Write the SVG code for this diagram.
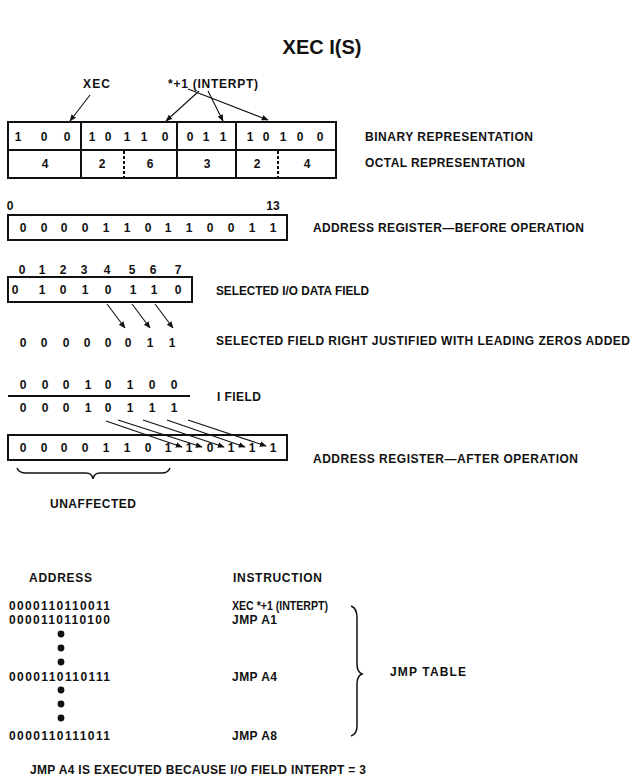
<svg xmlns="http://www.w3.org/2000/svg" width="633" height="776" viewBox="0 0 633 776">
<style>
text{font-family:"Liberation Sans",Arial,sans-serif;fill:#111;}
.t{font-size:20px;font-weight:bold;}
.l{font-size:12px;font-weight:bold;}
.d{font-size:12px;font-weight:bold;text-anchor:middle;}
.a{font-size:12px;font-weight:bold;}
.box{fill:none;stroke:#111;stroke-width:2;}
.dash{stroke:#111;stroke-width:2;stroke-dasharray:3,2;}
.c{fill:none;stroke:#111;stroke-width:1.1;}
.br{fill:none;stroke:#111;stroke-width:1.5;}
</style>
<defs>
<marker id="ah" viewBox="0 0 10 10" refX="9" refY="5" markerWidth="7" markerHeight="7" orient="auto" markerUnits="userSpaceOnUse">
<path d="M0,1 L10,5 L0,9 Z" fill="#111"/>
</marker>
</defs>

<g id="title"><text class="t" x="322" y="54" text-anchor="middle">XEC I(S)</text></g>

<g id="top-labels">
<text class="l" x="83" y="88" textLength="27">XEC</text>
<text class="l" x="168" y="88" textLength="90">*+1 (INTERPT)</text>
</g>

<g id="instruction-word">
<rect class="box" x="8" y="122" width="328" height="56"/>
<line class="box" x1="8" y1="150" x2="336" y2="150"/>
<line class="box" x1="81" y1="122" x2="81" y2="178"/>
<line class="box" x1="177" y1="122" x2="177" y2="178"/>
<line class="box" x1="236" y1="122" x2="236" y2="178"/>
<line class="dash" x1="124" y1="151" x2="124" y2="177"/>
<line class="dash" x1="278" y1="151" x2="278" y2="177"/>
<g class="bits">
<text class="d" x="18" y="141">1</text><text class="d" x="44" y="141">0</text><text class="d" x="67" y="141">0</text>
<text class="d" x="92" y="141">1</text><text class="d" x="108" y="141">0</text><text class="d" x="127" y="141">1</text><text class="d" x="144" y="141">1</text><text class="d" x="165" y="141">0</text>
<text class="d" x="190" y="141">0</text><text class="d" x="206" y="141">1</text><text class="d" x="223" y="141">1</text>
<text class="d" x="250" y="141">1</text><text class="d" x="266" y="141">0</text><text class="d" x="283" y="141">1</text><text class="d" x="300" y="141">0</text><text class="d" x="320" y="141">0</text>
</g>
<g class="octal">
<text class="d" x="45" y="168">4</text><text class="d" x="102" y="168">2</text><text class="d" x="150" y="168">6</text>
<text class="d" x="207" y="168">3</text><text class="d" x="257" y="168">2</text><text class="d" x="307" y="168">4</text>
</g>
<text class="l" x="365" y="141" textLength="168">BINARY REPRESENTATION</text>
<text class="l" x="365" y="167" textLength="160">OCTAL REPRESENTATION</text>
</g>

<g id="addr-before">
<text class="d" x="10" y="210">0</text>
<text class="d" x="273" y="210">13</text>
<rect class="box" x="8" y="215" width="279" height="25"/>
<text class="d" y="232"><tspan x="23">0</tspan><tspan x="44">0</tspan><tspan x="64">0</tspan><tspan x="85">0</tspan><tspan x="106">1</tspan><tspan x="127">1</tspan><tspan x="148">0</tspan><tspan x="168">1</tspan><tspan x="189">1</tspan><tspan x="210">0</tspan><tspan x="231">0</tspan><tspan x="252">1</tspan><tspan x="273">1</tspan></text>
<text class="l" x="313" y="232" textLength="271">ADDRESS REGISTER—BEFORE OPERATION</text>
</g>

<g id="io-field">
<text class="d" y="274"><tspan x="22">0</tspan><tspan x="42">1</tspan><tspan x="63">2</tspan><tspan x="84">3</tspan><tspan x="107">4</tspan><tspan x="132">5</tspan><tspan x="153">6</tspan><tspan x="178">7</tspan></text>
<rect class="box" x="8" y="277" width="184" height="25"/>
<text class="d" y="294"><tspan x="15">0</tspan><tspan x="42">1</tspan><tspan x="63">0</tspan><tspan x="85">1</tspan><tspan x="108">0</tspan><tspan x="133">1</tspan><tspan x="154">1</tspan><tspan x="178">0</tspan></text>
<text class="l" x="216" y="295" textLength="153" lengthAdjust="spacingAndGlyphs">SELECTED I/O DATA FIELD</text>
</g>

<g id="justified">
<text class="d" y="347"><tspan x="23">0</tspan><tspan x="44">0</tspan><tspan x="66">0</tspan><tspan x="87">0</tspan><tspan x="108">0</tspan><tspan x="128">0</tspan><tspan x="150">1</tspan><tspan x="172">1</tspan></text>
<text class="l" x="216" y="345" textLength="414">SELECTED FIELD RIGHT JUSTIFIED WITH LEADING ZEROS ADDED</text>
</g>

<g id="i-field">
<text class="d" y="389"><tspan x="23">0</tspan><tspan x="45">0</tspan><tspan x="66">0</tspan><tspan x="88">1</tspan><tspan x="108">0</tspan><tspan x="130">1</tspan><tspan x="152">0</tspan><tspan x="174">0</tspan></text>
<line x1="8" y1="396" x2="190" y2="396" stroke="#111" stroke-width="1.8"/>
<text class="d" y="412"><tspan x="23">0</tspan><tspan x="45">0</tspan><tspan x="66">0</tspan><tspan x="88">1</tspan><tspan x="108">0</tspan><tspan x="130">1</tspan><tspan x="152">1</tspan><tspan x="174">1</tspan></text>
<text class="l" x="217" y="401" textLength="44">I FIELD</text>
</g>

<g id="addr-after">
<rect class="box" x="8" y="435" width="279" height="25"/>
<text class="d" y="452"><tspan x="23">0</tspan><tspan x="44">0</tspan><tspan x="64">0</tspan><tspan x="85">0</tspan><tspan x="106">1</tspan><tspan x="127">1</tspan><tspan x="148">0</tspan><tspan x="168">1</tspan><tspan x="189">1</tspan><tspan x="210">0</tspan><tspan x="231">1</tspan><tspan x="252">1</tspan><tspan x="273">1</tspan></text>
<text class="l" x="313" y="463" textLength="265">ADDRESS REGISTER—AFTER OPERATION</text>
<path class="br" d="M17,468 Q19,473 26,473 L86,473 Q92,473 93,479 Q94,473 100,473 L162,473 Q168,473 170,468"/>
<text class="l" x="50" y="508" textLength="86">UNAFFECTED</text>
</g>

<g id="connectors">
<line class="c" x1="90" y1="95" x2="70" y2="121" marker-end="url(#ah)"/>
<line class="c" x1="199" y1="91" x2="166" y2="121" marker-end="url(#ah)"/>
<line class="c" x1="208" y1="91" x2="223" y2="121" marker-end="url(#ah)"/>
<line class="c" x1="188" y1="89" x2="268" y2="120" marker-end="url(#ah)"/>
<line class="c" x1="107" y1="304" x2="125" y2="328" marker-end="url(#ah)"/>
<line class="c" x1="132" y1="304" x2="150" y2="328" marker-end="url(#ah)"/>
<line class="c" x1="155" y1="304" x2="173" y2="328" marker-end="url(#ah)"/>
<line class="c" x1="106" y1="421" x2="182" y2="447" marker-end="url(#ah)"/>
<line class="c" x1="118" y1="420" x2="202" y2="447" marker-end="url(#ah)"/>
<line class="c" x1="143" y1="420" x2="224" y2="447" marker-end="url(#ah)"/>
<line class="c" x1="167" y1="420" x2="245" y2="447" marker-end="url(#ah)"/>
<line class="c" x1="188" y1="420" x2="266" y2="446" marker-end="url(#ah)"/>
</g>

<g id="jmp-table">
<text class="l" x="29" y="582" textLength="63">ADDRESS</text>
<text class="l" x="233" y="582" textLength="89">INSTRUCTION</text>
<text class="a" x="9" y="610" textLength="101">0000110110011</text>
<text class="a" x="9" y="624" textLength="101">0000110110100</text>
<circle cx="61" cy="634" r="3.4" fill="#111"/>
<circle cx="61" cy="648" r="3.4" fill="#111"/>
<circle cx="61" cy="662" r="3.4" fill="#111"/>
<text class="a" x="9" y="681" textLength="101">0000110110111</text>
<circle cx="61" cy="690" r="3.4" fill="#111"/>
<circle cx="61" cy="704" r="3.4" fill="#111"/>
<circle cx="61" cy="718" r="3.4" fill="#111"/>
<text class="a" x="9" y="740" textLength="101">0000110111011</text>
<text class="l" x="232" y="610" textLength="96" lengthAdjust="spacingAndGlyphs">XEC *+1 (INTERPT)</text>
<text class="l" x="232" y="624" textLength="45">JMP A1</text>
<text class="l" x="232" y="681" textLength="45">JMP A4</text>
<text class="l" x="232" y="740" textLength="45">JMP A8</text>
<path class="br" d="M351,606 Q357,608 357,618 L357,664 Q357,672 362,674 Q357,676 357,684 L357,726 Q357,734 351,736"/>
<text class="l" x="390" y="676" textLength="76">JMP TABLE</text>
</g>

<g id="footer"><text class="l" x="30" y="774" textLength="336">JMP A4 IS EXECUTED BECAUSE I/O FIELD INTERPT = 3</text></g>
</svg>
